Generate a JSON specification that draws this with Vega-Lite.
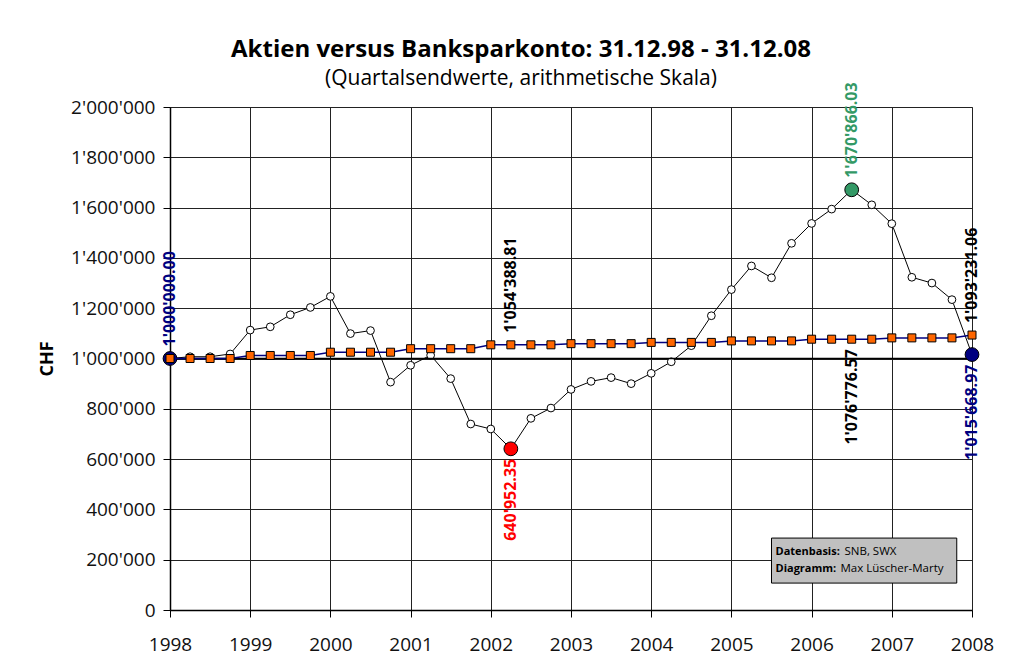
{
  "$schema": "https://vega.github.io/schema/vega-lite/v6.json",
  "autosize": "none",
  "width": 802,
  "height": 503,
  "padding": {"left": 170, "top": 107, "right": 44, "bottom": 58},
  "background": "#ffffff",
  "config": {
    "locale": {"number": {"decimal": ".", "thousands": "'", "grouping": [3], "currency": ["", ""]}},
    "font": "Open Sans",
    "view": {"stroke": "#808080", "strokeWidth": 1},
    "axis": {
      "labelFont": "Open Sans", "labelFontSize": 19, "labelColor": "#111",
      "titleFont": "Open Sans", "titleColor": "#000",
      "gridColor": "#222", "gridWidth": 1, "gridOpacity": 1,
      "domainColor": "#000", "domainWidth": 1.5, "tickColor": "#000", "tickWidth": 1, "tickSize": 7
    }
  },
  "title": {
    "text": "Aktien versus Banksparkonto: 31.12.98 - 31.12.08",
    "subtitle": "(Quartalsendwerte, arithmetische Skala)",
    "anchor": "middle", "frame": "group", "dx": -50,
    "font": "Open Sans", "fontSize": 24, "fontWeight": "bold", "color": "#000",
    "subtitleFont": "Open Sans", "subtitleFontSize": 21, "subtitleColor": "#000", "subtitlePadding": 6,
    "offset": -7
  },
  "datasets": {
    "series": [
      {"t": 1998.00, "stock": 1000000, "bank": 1000000},
      {"t": 1998.25, "stock": 1007000, "bank": 1000000},
      {"t": 1998.50, "stock": 1007000, "bank": 1000000},
      {"t": 1998.75, "stock": 1018000, "bank": 1000000},
      {"t": 1999.00, "stock": 1113000, "bank": 1012000},
      {"t": 1999.25, "stock": 1126000, "bank": 1012000},
      {"t": 1999.50, "stock": 1174000, "bank": 1012000},
      {"t": 1999.75, "stock": 1203000, "bank": 1012000},
      {"t": 2000.00, "stock": 1247000, "bank": 1025000},
      {"t": 2000.25, "stock": 1099000, "bank": 1025000},
      {"t": 2000.50, "stock": 1111000, "bank": 1025000},
      {"t": 2000.75, "stock": 906000, "bank": 1025000},
      {"t": 2001.00, "stock": 973000, "bank": 1039000},
      {"t": 2001.25, "stock": 1013000, "bank": 1039000},
      {"t": 2001.50, "stock": 920000, "bank": 1039000},
      {"t": 2001.75, "stock": 739500, "bank": 1039000},
      {"t": 2002.00, "stock": 719700, "bank": 1054388.81},
      {"t": 2002.25, "stock": 640952.35, "bank": 1054388.81},
      {"t": 2002.50, "stock": 762000, "bank": 1054388.81},
      {"t": 2002.75, "stock": 803000, "bank": 1054388.81},
      {"t": 2003.00, "stock": 877000, "bank": 1059000},
      {"t": 2003.25, "stock": 909000, "bank": 1059000},
      {"t": 2003.50, "stock": 924000, "bank": 1059000},
      {"t": 2003.75, "stock": 900000, "bank": 1059000},
      {"t": 2004.00, "stock": 941000, "bank": 1064000},
      {"t": 2004.25, "stock": 987000, "bank": 1064000},
      {"t": 2004.50, "stock": 1051000, "bank": 1064000},
      {"t": 2004.75, "stock": 1170000, "bank": 1064000},
      {"t": 2005.00, "stock": 1274000, "bank": 1070000},
      {"t": 2005.25, "stock": 1368000, "bank": 1070000},
      {"t": 2005.50, "stock": 1321000, "bank": 1070000},
      {"t": 2005.75, "stock": 1458000, "bank": 1070000},
      {"t": 2006.00, "stock": 1537000, "bank": 1076776.57},
      {"t": 2006.25, "stock": 1594000, "bank": 1076776.57},
      {"t": 2006.50, "stock": 1670866.03, "bank": 1076776.57},
      {"t": 2006.75, "stock": 1611000, "bank": 1076776.57},
      {"t": 2007.00, "stock": 1536000, "bank": 1082000},
      {"t": 2007.25, "stock": 1323000, "bank": 1082000},
      {"t": 2007.50, "stock": 1300000, "bank": 1082000},
      {"t": 2007.75, "stock": 1234000, "bank": 1082000},
      {"t": 2008.00, "stock": 1015668.97, "bank": 1093231.06}
    ],
    "highlights": [
      {"t": 1998.00, "value": 1000000, "kind": "start"},
      {"t": 2002.25, "value": 640952.35, "kind": "min"},
      {"t": 2006.50, "value": 1670866.03, "kind": "max"},
      {"t": 2008.00, "value": 1015668.97, "kind": "end"}
    ],
    "labels": [
      {"t": 1998.00, "value": 1000000, "kind": "start", "side": "above"},
      {"t": 2002.25, "value": 1054388.81, "kind": "bank", "side": "above"},
      {"t": 2002.25, "value": 640952.35, "kind": "min", "side": "below"},
      {"t": 2006.50, "value": 1670866.03, "kind": "max", "side": "above"},
      {"t": 2006.50, "value": 1076776.57, "kind": "bank", "side": "below"},
      {"t": 2008.00, "value": 1093231.06, "kind": "bank", "side": "above"},
      {"t": 2008.00, "value": 1015668.97, "kind": "end", "side": "below"}
    ],
    "one": [{}]
  },
  "layer": [
    {
      "data": {"name": "series"},
      "mark": {"type": "line", "color": "#000000", "strokeWidth": 1},
      "encoding": {
        "x": {"field": "t", "type": "quantitative",
              "scale": {"domain": [1998, 2008], "nice": false, "zero": false},
              "axis": {"values": [1998,1999,2000,2001,2002,2003,2004,2005,2006,2007,2008], "format": "d", "title": null, "labelPadding": 18, "labelFlush": false}},
        "y": {"field": "stock", "type": "quantitative",
              "scale": {"domain": [0, 2000000], "nice": false},
              "axis": {"values": [0,200000,400000,600000,800000,1000000,1200000,1400000,1600000,1800000,2000000], "format": ",d", "title": "CHF", "titleFontSize": 18, "titleFontWeight": "bold", "titlePadding": 14, "labelPadding": 8}}
      }
    },
    {
      "data": {"name": "series"},
      "mark": {"type": "point", "shape": "circle", "filled": true, "fill": "#ffffff", "stroke": "#000000", "strokeWidth": 1, "size": 60, "opacity": 1},
      "encoding": {
        "x": {"field": "t", "type": "quantitative"},
        "y": {"field": "stock", "type": "quantitative"}
      }
    },
    {
      "data": {"name": "one"},
      "mark": {"type": "rule", "color": "#000000", "strokeWidth": 1.5},
      "encoding": {"y": {"datum": 1000000}}
    },
    {
      "data": {"name": "highlights"},
      "mark": {"type": "point", "shape": "circle", "filled": true, "stroke": "#000000", "strokeWidth": 1, "size": 190, "opacity": 1},
      "encoding": {
        "x": {"field": "t", "type": "quantitative"},
        "y": {"field": "value", "type": "quantitative"},
        "fill": {"field": "kind", "type": "nominal", "legend": null,
                 "scale": {"domain": ["start", "min", "max", "end", "bank"], "range": ["#000080", "#FF0000", "#339966", "#000080", "#000000"]}}
      }
    },
    {
      "data": {"name": "series"},
      "mark": {"type": "line", "color": "#000080", "strokeWidth": 1.5},
      "encoding": {
        "x": {"field": "t", "type": "quantitative"},
        "y": {"field": "bank", "type": "quantitative"}
      }
    },
    {
      "data": {"name": "series"},
      "mark": {"type": "point", "shape": "square", "filled": true, "fill": "#FF6600", "stroke": "#000000", "strokeWidth": 1, "size": 64, "opacity": 1},
      "encoding": {
        "x": {"field": "t", "type": "quantitative"},
        "y": {"field": "bank", "type": "quantitative"}
      }
    },
    {
      "data": {"name": "labels"},
      "transform": [{"filter": "datum.side === 'above'"}],
      "mark": {"type": "text", "angle": 270, "align": "left", "baseline": "middle", "dx": 12, "font": "Open Sans", "fontSize": 16, "fontWeight": "bold"},
      "encoding": {
        "x": {"field": "t", "type": "quantitative"},
        "y": {"field": "value", "type": "quantitative"},
        "text": {"field": "value", "type": "quantitative", "format": ",.2f"},
        "color": {"field": "kind", "type": "nominal", "legend": null,
                  "scale": {"domain": ["start", "min", "max", "end", "bank"], "range": ["#000080", "#FF0000", "#339966", "#000080", "#000000"]}}
      }
    },
    {
      "data": {"name": "labels"},
      "transform": [{"filter": "datum.side === 'below'"}],
      "mark": {"type": "text", "angle": 270, "align": "right", "baseline": "middle", "dx": -10, "font": "Open Sans", "fontSize": 16, "fontWeight": "bold"},
      "encoding": {
        "x": {"field": "t", "type": "quantitative"},
        "y": {"field": "value", "type": "quantitative"},
        "text": {"field": "value", "type": "quantitative", "format": ",.2f"},
        "color": {"field": "kind", "type": "nominal", "legend": null,
                  "scale": {"domain": ["start", "min", "max", "end", "bank"], "range": ["#000080", "#FF0000", "#339966", "#000080", "#000000"]}}
      }
    },
    {
      "data": {"name": "one"},
      "mark": {"type": "rect", "fill": "#C0C0C0", "stroke": "#000000", "strokeWidth": 1},
      "encoding": {
        "x": {"datum": 2005.5}, "x2": {"datum": 2007.81},
        "y": {"datum": 107000}, "y2": {"datum": 286000}
      }
    },
    {
      "data": {"name": "one"},
      "mark": {"type": "text", "text": "Datenbasis:", "align": "left", "baseline": "middle", "font": "Open Sans", "fontSize": 11, "fontWeight": "bold", "color": "#000", "dx": 4},
      "encoding": {"x": {"datum": 2005.5}, "y": {"datum": 229000}}
    },
    {
      "data": {"name": "one"},
      "mark": {"type": "text", "text": "SNB, SWX", "align": "left", "baseline": "middle", "font": "Open Sans", "fontSize": 11.5, "color": "#000", "dx": 73},
      "encoding": {"x": {"datum": 2005.5}, "y": {"datum": 229000}}
    },
    {
      "data": {"name": "one"},
      "mark": {"type": "text", "text": "Diagramm:", "align": "left", "baseline": "middle", "font": "Open Sans", "fontSize": 11, "fontWeight": "bold", "color": "#000", "dx": 4},
      "encoding": {"x": {"datum": 2005.5}, "y": {"datum": 163000}}
    },
    {
      "data": {"name": "one"},
      "mark": {"type": "text", "text": "Max Lüscher-Marty", "align": "left", "baseline": "middle", "font": "Open Sans", "fontSize": 11.5, "color": "#000", "dx": 69},
      "encoding": {"x": {"datum": 2005.5}, "y": {"datum": 163000}}
    }
  ]
}
